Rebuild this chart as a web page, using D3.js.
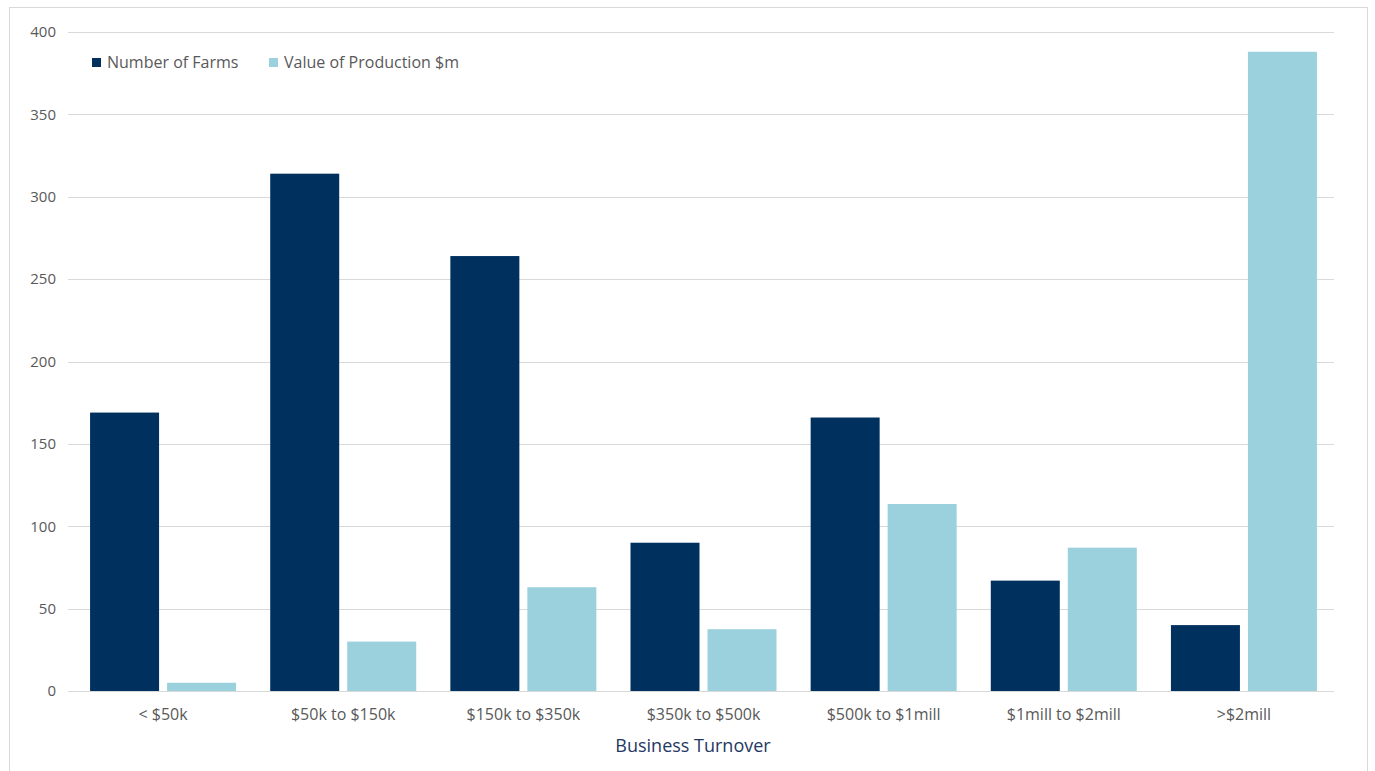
<!DOCTYPE html>
<html><head><meta charset="utf-8">
<script src="https://cdn.jsdelivr.net/npm/d3@7"></script>
<style>
html,body{margin:0;padding:0;background:#fff;}
svg{display:block;font-family:"Open Sans",sans-serif;}
</style></head>
<body>
<svg id="chart" width="1375" height="771"></svg>
<script>
const categories = ["< $50k","$50k to $150k","$150k to $350k","$350k to $500k","$500k to $1mill","$1mill to $2mill",">$2mill"];
const seriesNames = ["Number of Farms","Value of Production $m"];
const numberOfFarms = [169, 314, 264, 90, 166, 67, 40];
const valueOfProduction = [5, 30, 63, 37.5, 113.5, 87, 388];
const yTicks = [0,50,100,150,200,250,300,350,400];
const colors = ["#00305e","#9bd1dc"];

const svg = d3.select("#chart");
// outer border
svg.append("rect").attr("x",9.5).attr("y",7.5).attr("width",1358).attr("height",780)
  .attr("fill","none").attr("stroke","#d9d9d9");

const m = {left:73, right:1334, top:32, bottom:691};
const x = d3.scaleBand().domain(categories).range([m.left, m.right]).paddingInner(0).paddingOuter(0);
const y = d3.scaleLinear().domain([0,400]).range([m.bottom, m.top]);

// gridlines
svg.append("g").selectAll("line").data(yTicks).join("line")
  .attr("x1",68).attr("x2",m.right).attr("y1",d=>Math.round(y(d))+0.5).attr("y2",d=>Math.round(y(d))+0.5)
  .attr("stroke","#d9d9d9").attr("stroke-width",1);

// y axis labels
const yAxis = d3.axisLeft(y).tickValues(yTicks).tickSize(0).tickPadding(0);
const gy = svg.append("g").attr("transform","translate(56,0)").call(yAxis);
gy.select(".domain").remove();
gy.selectAll("text").attr("fill","#595959").style("font-size","15px").style("font-family","'Open Sans',sans-serif");

// bars
const bw = 69, gap = 8;
const data = categories.map((c,i)=>({c, vals:[numberOfFarms[i], valueOfProduction[i]]}));
const groups = svg.append("g").selectAll("g").data(data).join("g");
groups.selectAll("rect").data(d=>d.vals.map((v,k)=>({c:d.c,v,k}))).join("rect")
  .attr("x",d=>x(d.c)+x.bandwidth()/2 - (bw+gap/2) + d.k*(bw+gap))
  .attr("width",bw)
  .attr("y",d=>y(d.v))
  .attr("height",d=>y(0)-y(d.v))
  .attr("fill",d=>colors[d.k]);

// x axis labels
const xAxis = d3.axisBottom(x).tickSize(0).tickPadding(0);
const gx = svg.append("g").attr("transform",`translate(0,${m.bottom+18})`).call(xAxis);
gx.select(".domain").remove();
gx.selectAll("text").attr("fill","#595959").style("font-size","16px").style("font-family","'Open Sans',sans-serif");

// axis title
svg.append("text").attr("x",693).attr("y",752).attr("text-anchor","middle")
  .attr("fill","#1f3864").style("font-size","18px").text("Business Turnover");

// legend
const legX = [92, 269];
const leg = svg.append("g").selectAll("g").data(seriesNames).join("g")
  .attr("transform",(d,i)=>`translate(${legX[i]},58)`);
leg.append("rect").attr("width",9).attr("height",9).attr("fill",(d,i)=>colors[i]);
leg.append("text").attr("x",15).attr("y",10).attr("fill","#595959").style("font-size","16px").text(d=>d);
</script>
</body></html>
